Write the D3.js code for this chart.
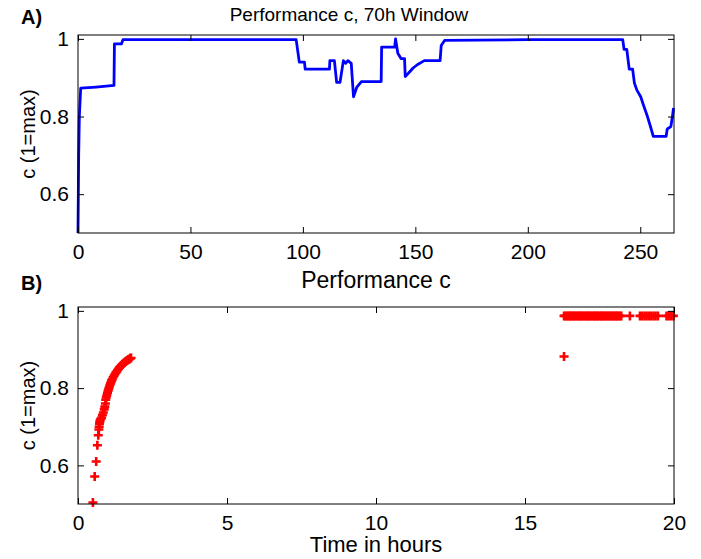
<!DOCTYPE html>
<html>
<head>
<meta charset="utf-8">
<script src="https://cdn.jsdelivr.net/npm/d3@7"></script>
<style>
  body { margin: 0; background: #fff; }
  text { font-family: "Liberation Sans", Arial, sans-serif; fill: #000; }
</style>
</head>
<body>
<div class="vis"></div>
<script>
// Panel A: performance c over a 70h window (time axis in hours)
const timeA = [0, 0.3, 0.6, 1.2, 8, 16, 16.2, 19.3, 20, 60, 97, 98.4, 100.7, 101, 111.8, 112, 114, 115, 116.5, 118, 119, 120, 121.5, 122.5, 124, 126, 134.8, 135, 140.8, 141.2, 142.2, 143.7, 145.2, 145.5, 147, 149, 151, 154, 161, 161.5, 163, 200, 242.2, 242.8, 244, 245.1, 246.6, 247.4, 248.5, 250.2, 251.5, 253.2, 254.5, 255.8, 261.5, 262, 263.6, 264.3, 264.8];
const perfA = [0.5, 0.7, 0.8, 0.873, 0.876, 0.88, 0.987, 0.987, 0.998, 0.998, 0.998, 0.94, 0.94, 0.922, 0.922, 0.944, 0.944, 0.888, 0.888, 0.944, 0.937, 0.944, 0.937, 0.851, 0.876, 0.89, 0.89, 0.979, 0.979, 1.0, 0.963, 0.949, 0.949, 0.903, 0.912, 0.925, 0.934, 0.944, 0.944, 0.983, 0.996, 0.998, 0.998, 0.973, 0.973, 0.922, 0.922, 0.886, 0.868, 0.851, 0.828, 0.8, 0.775, 0.749, 0.749, 0.768, 0.774, 0.8, 0.822];

// Panel B: performance c against time in hours (scatter)
const hoursB = [0.50, 0.56, 0.61, 0.65, 0.68, 0.70, 0.71, 0.72, 0.73, 0.74, 0.76, 0.79, 0.82, 0.85, 0.88, 0.90, 0.92, 0.93, 0.95, 0.97, 0.99, 1.01, 1.03, 1.05, 1.07, 1.09, 1.11, 1.13, 1.15, 1.18, 1.21, 1.24, 1.27, 1.30, 1.33, 1.36, 1.39, 1.42, 1.45, 1.48, 1.51, 1.54, 1.57, 1.60, 1.63, 1.66, 1.69, 1.72, 1.75, 1.78,
  16.31, 16.31, 16.36, 16.41, 16.46, 16.50, 16.55, 16.60, 16.64, 16.69, 16.74, 16.79, 16.84, 16.88, 16.93, 16.98, 17.03, 17.08, 17.12, 17.17, 17.22, 17.27, 17.32, 17.36, 17.41, 17.46, 17.51, 17.56, 17.60, 17.65, 17.70, 17.75, 17.80, 17.84, 17.89, 17.94, 17.99, 18.04, 18.08, 18.13, 18.18, 18.23, 18.52, 18.86, 18.93, 19.01, 19.08, 19.16, 19.23, 19.31, 19.38, 19.46, 19.75, 19.82, 19.90, 19.98];
const perfB = [0.504, 0.571, 0.610, 0.652, 0.678, 0.693, 0.700, 0.707, 0.712, 0.716, 0.720, 0.723, 0.730, 0.737, 0.745, 0.752, 0.760, 0.770, 0.776, 0.782, 0.788, 0.793, 0.798, 0.803, 0.808, 0.812, 0.816, 0.820, 0.823, 0.828, 0.832, 0.836, 0.840, 0.843, 0.847, 0.850, 0.853, 0.856, 0.858, 0.861, 0.863, 0.865, 0.867, 0.869, 0.871, 0.872, 0.874, 0.875, 0.877, 0.878,
  0.882, 0.987, 0.987, 0.987, 0.987, 0.987, 0.987, 0.987, 0.987, 0.987, 0.987, 0.987, 0.987, 0.987, 0.987, 0.987, 0.987, 0.987, 0.987, 0.987, 0.987, 0.987, 0.987, 0.987, 0.987, 0.987, 0.987, 0.987, 0.987, 0.987, 0.987, 0.987, 0.987, 0.987, 0.987, 0.987, 0.987, 0.987, 0.987, 0.987, 0.987, 0.987, 0.987, 0.987, 0.987, 0.987, 0.987, 0.987, 0.987, 0.987, 0.987, 0.987, 0.987, 0.987, 0.987, 0.987];

const xTicksA = [0, 50, 100, 150, 200, 250];
const xTicksB = [0, 5, 10, 15, 20];
const yTicks = [0.6, 0.8, 1];

const width = 701;
const height = 559;
const left = 78, right = 674;

const svg = d3.select('.vis').append('svg').attr('width', width).attr('height', height);

// draws the box, mirrored inward ticks and tick labels, MATLAB style
const drawAxes = (xScale, yScale, xTicks, top, bottom) => {
    const g = svg.append('g');
    const tick = 6;
    const fmtY = d => d === 1 ? '1' : d3.format('.1f')(d);

    g.append('g').attr('transform', `translate(0,${bottom})`)
        .call(d3.axisBottom(xScale).tickValues(xTicks).tickSizeInner(-tick).tickSizeOuter(0).tickPadding(11).tickFormat(d3.format('d')));
    g.append('g').attr('transform', `translate(0,${top})`)
        .call(d3.axisTop(xScale).tickValues(xTicks).tickSizeInner(-tick).tickSizeOuter(0).tickFormat(''));
    g.append('g').attr('transform', `translate(${left},0)`)
        .call(d3.axisLeft(yScale).tickValues(yTicks).tickSizeInner(-tick).tickSizeOuter(0).tickPadding(9).tickFormat(fmtY));
    g.append('g').attr('transform', `translate(${right},0)`)
        .call(d3.axisRight(yScale).tickValues(yTicks).tickSizeInner(-tick).tickSizeOuter(0).tickFormat(''));

    g.selectAll('.domain').remove();
    g.selectAll('.tick line').attr('stroke', '#000');
    g.selectAll('.tick text').style('font-size', '21px').attr('fill', '#000');

    g.append('rect')
        .attr('x', left).attr('y', top)
        .attr('width', right - left).attr('height', bottom - top)
        .attr('fill', 'none').attr('stroke', '#000').attr('stroke-width', 1);
    return g;
};

// ---- Panel A ----
const topA = 35, bottomA = 233;
const xA = d3.scaleLinear().domain([0, 265]).range([left, right]);
const yA = d3.scaleLinear().domain([0.5, 1.01]).range([bottomA, topA]);

svg.append('path')
    .datum(timeA.map((t, i) => [t, perfA[i]]))
    .attr('fill', 'none')
    .attr('stroke', '#0000ff')
    .attr('stroke-width', 2.8)
    .attr('stroke-linejoin', 'round')
    .attr('d', d3.line().x(d => xA(d[0])).y(d => yA(d[1])));

drawAxes(xA, yA, xTicksA, topA, bottomA);

svg.append('text').attr('x', 349).attr('y', 21)
    .attr('text-anchor', 'middle').style('font-size', '19px')
    .text('Performance c, 70h Window');
svg.append('text').attr('x', (left + right) / 2).attr('y', 288)
    .attr('text-anchor', 'middle').style('font-size', '23px')
    .text('Performance c');
svg.append('text').attr('transform', `translate(35,${(topA + bottomA) / 2}) rotate(-90)`)
    .attr('text-anchor', 'middle').style('font-size', '20px')
    .text('c (1=max)');
svg.append('text').attr('x', 21).attr('y', 24)
    .style('font-size', '20px').style('font-weight', 'bold').text('A)');

// ---- Panel B ----
const topB = 307, bottomB = 504;
const xB = d3.scaleLinear().domain([0, 20]).range([left, right]);
const yB = d3.scaleLinear().domain([0.5, 1.01]).range([bottomB, topB]);

svg.append('g').selectAll('path')
    .data(hoursB.map((h, i) => [h, perfB[i]]))
    .join('path')
    .attr('transform', d => `translate(${xB(d[0])},${yB(d[1])})`)
    .attr('d', 'M-4.5,0H4.5M0,-4.5V4.5')
    .attr('stroke', '#ff0000')
    .attr('stroke-width', 2.6)
    .attr('fill', 'none');

drawAxes(xB, yB, xTicksB, topB, bottomB);

svg.append('text').attr('transform', `translate(35,${(topB + bottomB) / 2}) rotate(-90)`)
    .attr('text-anchor', 'middle').style('font-size', '20px')
    .text('c (1=max)');
svg.append('text').attr('x', (left + right) / 2).attr('y', 552)
    .attr('text-anchor', 'middle').style('font-size', '22px')
    .text('Time in hours');
svg.append('text').attr('x', 21).attr('y', 290)
    .style('font-size', '20px').style('font-weight', 'bold').text('B)');
</script>
</body>
</html>
